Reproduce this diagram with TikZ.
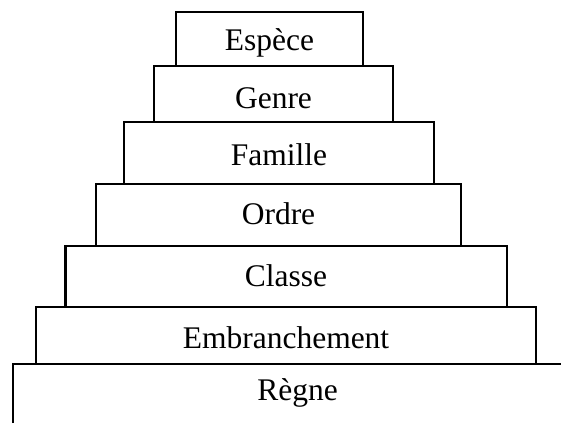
\documentclass[tikz,border=0pt]{standalone}
\usepackage{fontspec}
\setmainfont{Liberation Serif}
\begin{document}
\begin{tikzpicture}[x=1pt,y=-1pt,
  step outline/.style={draw=black,line width=2.2pt,line join=miter},
  rank/.style={inner sep=0pt,font=\fontsize{31.5}{36}\selectfont,anchor=center}]
\useasboundingbox (0,0) rectangle (561,423);
% each step: left edge, top edge, right edge; its bottom is the top of the step below
\draw[step outline] (176,66)  -- (176,11.7) -- (362.7,11.7) -- (362.7,66);
\draw[step outline] (154,122) -- (154,66)   -- (393.3,66)   -- (393.3,122);
\draw[step outline] (124.3,184) -- (124.3,122) -- (434.3,122) -- (434.3,184);
\draw[step outline] (95.7,246) -- (95.7,184) -- (461,184) -- (461,246);
\draw[step outline] (65.5,307.3) -- (65.5,246) -- (506.7,246) -- (506.7,307.3);
\draw[step outline] (36,364) -- (36,307.3) -- (535.7,307.3) -- (535.7,364);
\draw[step outline] (13.3,423) -- (13.3,364) -- (561,364);
% labels
\node[rank] (espece) at (269.5,43) {Espèce};
\node[rank] (genre) at (273.5,98) {Genre};
\node[rank] (famille) at (279,155) {Famille};
\node[rank] (ordre) at (278.5,214) {Ordre};
\node[rank] (classe) at (286,276) {Classe};
\node[rank] (embranchement) at (286,338) {Embranchement};
\node[rank] (regne) at (297.5,393) {Règne};
\end{tikzpicture}
\end{document}
